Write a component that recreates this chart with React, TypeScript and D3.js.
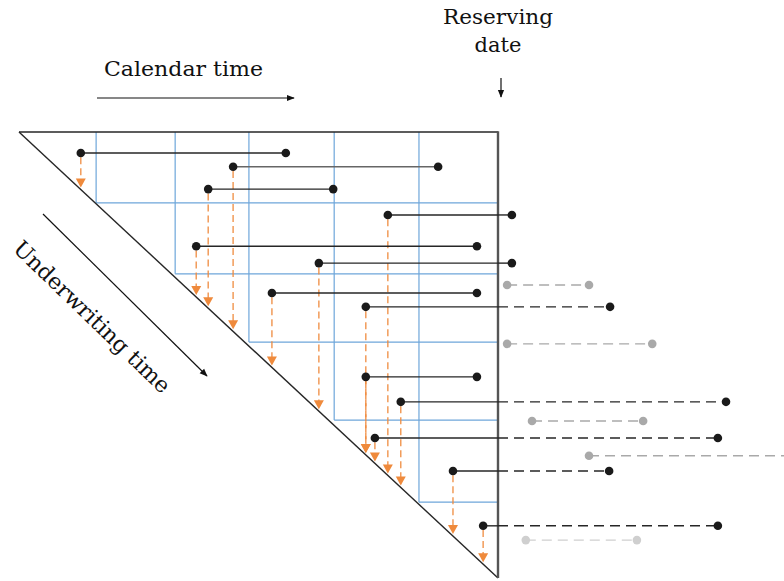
import React from 'react';
import * as d3 from 'd3';

// Reported claims: calendar time of report (start), underwriting row, calendar time of settlement (end)
const claimStart = [1.29, 4.47, 3.95, 7.70, 3.70, 6.26, 5.28, 7.24, 7.24, 7.97, 7.43, 9.06, 9.69];
const claimRow = [0.47, 0.78, 1.28, 1.86, 2.56, 2.94, 3.61, 3.92, 5.49, 6.05, 6.86, 7.60, 8.83];
const claimEnd = [5.57, 8.75, 6.56, 10.29, 9.56, 10.29, 9.56, 12.34, 9.56, 14.76, 14.59, 12.32, 14.59];
const claimTone = ['dark', 'mid', 'dark', 'dark', 'dark', 'dark', 'dark', 'dark', 'dark', 'dark', 'dark', 'dark', 'dark'];

// Claims reported after the reserving date
const futureStart = [10.19, 10.19, 10.71, 11.90, 10.58];
const futureRow = [3.43, 4.75, 6.48, 7.26, 9.15];
const futureEnd = [11.90, 13.22, 13.03, 16.4, 12.90];
const futureTone = ['#a9a9a9', '#a9a9a9', '#a9a9a9', '#a9a9a9', '#cfcfcf'];

// Period boundaries (blue grid)
const gridCalendar = [1.61, 3.26, 4.80, 6.58, 8.35];
const gridUnderwriting = [1.59, 3.18, 4.71, 6.46, 8.30];

const reservingDate = 10;
const labelCalendar = 'Calendar time';
const labelUnderwriting = 'Underwriting time';
const labelReserving = ['Reserving', 'date'];

export default function App() {
  const x = d3.scaleLinear().domain([0, 10]).range([19, 498]);
  const y = d3.scaleLinear().domain([0, 10]).range([132, 578]);
  const orange = '#ef8a3c';
  const blue = '#6ea6da';
  const dark = '#262626';
  const r = 4.3;

  const line = d3.line<[number, number]>().x(d => d[0]).y(d => d[1]);

  return (
    <svg width={784} height={581} style={{ position: 'absolute', left: 0, top: 0, background: '#fff' }}
      fontFamily="'DejaVu Serif', serif">
      <defs>
        <marker id="arrBlack" viewBox="0 0 10 10" refX="9" refY="5" markerWidth="8" markerHeight="8" orient="auto" markerUnits="userSpaceOnUse">
          <path d="M0,1 L10,5 L0,9 Z" fill="#111" />
        </marker>
      </defs>

      {/* blue grid */}
      {gridCalendar.map((c, i) => (
        <g key={'g' + i} stroke={blue} strokeWidth={1.2} fill="none">
          <path d={line([[x(c), y(0)], [x(c), y(gridUnderwriting[i])]])!} />
          <path d={line([[x(c), y(gridUnderwriting[i])], [x(reservingDate), y(gridUnderwriting[i])]])!} />
        </g>
      ))}

      {/* triangle */}
      <path d={line([[x(0), y(0)], [x(reservingDate), y(0)]])!} stroke={dark} strokeWidth={1.6} />
      <path d={line([[x(0), y(0)], [x(reservingDate), y(reservingDate)]])!} stroke={dark} strokeWidth={1.4} />
      <path d={line([[x(reservingDate), y(0) - 0.8], [x(reservingDate), y(reservingDate)]])!} stroke="#555" strokeWidth={2.4} />

      {/* orange arrows to underwriting date */}
      {claimStart.map((s, i) => {
        const tip = y(s) - 2;
        const top = y(claimRow[i]) + r;
        return (
          <g key={'o' + i}>
            <path d={line([[x(s), top], [x(s), tip - 7]])!} stroke={orange} strokeWidth={1.5} strokeDasharray="7,4" fill="none" opacity={0.85} />
            <path d={`M${x(s) - 5},${tip - 9} L${x(s) + 5},${tip - 9} L${x(s)},${tip} Z`} fill={orange} />
          </g>
        );
      })}

      {/* reported claims */}
      {claimStart.map((s, i) => {
        const e = claimEnd[i];
        const yy = y(claimRow[i]);
        const col = claimTone[i] === 'mid' ? '#666' : dark;
        return (
          <g key={'c' + i}>
            <path d={line([[x(s), yy], [x(Math.min(e, reservingDate)), yy]])!} stroke={col} strokeWidth={1.4} />
            {e > reservingDate && (
              <path d={line([[x(reservingDate), yy], [x(e), yy]])!} stroke={dark} strokeWidth={1.4} strokeDasharray="10,6" />
            )}
            <circle cx={x(s)} cy={yy} r={r} fill="#1a1a1a" />
            <circle cx={x(e)} cy={yy} r={r} fill="#1a1a1a" />
          </g>
        );
      })}

      {/* future claims */}
      {futureStart.map((s, i) => {
        const yy = y(futureRow[i]);
        const c = futureTone[i];
        return (
          <g key={'f' + i}>
            <path d={line([[x(s), yy], [x(futureEnd[i]), yy]])!} stroke={c} strokeWidth={1.4} strokeDasharray="10,6" />
            <circle cx={x(s)} cy={yy} r={r} fill={c} />
            <circle cx={x(futureEnd[i])} cy={yy} r={r} fill={c} />
          </g>
        );
      })}

      {/* labels */}
      <text x={104} y={76} fontSize={21} fill="#111" textLength={159} lengthAdjust="spacingAndGlyphs">{labelCalendar}</text>
      <path d="M97,98 L294,98" stroke="#111" strokeWidth={1.2} markerEnd="url(#arrBlack)" />

      <text x={498} y={24} fontSize={21} fill="#111" textAnchor="middle" textLength={110} lengthAdjust="spacingAndGlyphs">{labelReserving[0]}</text>
      <text x={498} y={52} fontSize={21} fill="#111" textAnchor="middle">{labelReserving[1]}</text>
      <path d="M501,78 L501,97" stroke="#111" strokeWidth={1.2} markerEnd="url(#arrBlack)" />

      <text transform="translate(12,250) rotate(44)" fontSize={22} fill="#111" textLength={208} lengthAdjust="spacingAndGlyphs">{labelUnderwriting}</text>
      <path d="M43,214 L207,376" stroke="#111" strokeWidth={1.2} markerEnd="url(#arrBlack)" />
    </svg>
  );
}
